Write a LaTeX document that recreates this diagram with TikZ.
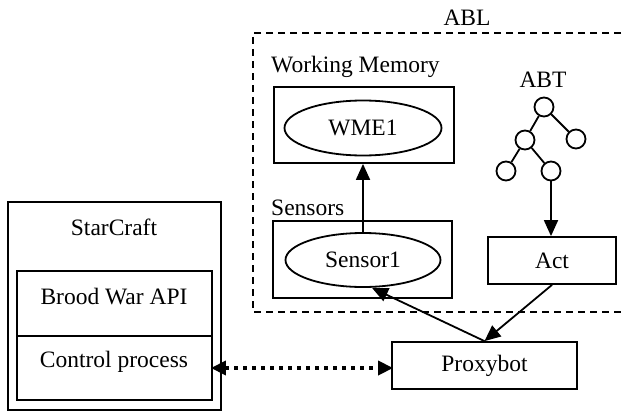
\documentclass[tikz,border=0pt]{standalone}
\usepackage{fontspec}
\setmainfont{Liberation Serif}
\usetikzlibrary{shapes.geometric,arrows.meta}
\begin{document}
\begin{tikzpicture}[x=1pt,y=-1pt,
  font=\fontsize{23.5}{28}\selectfont,
  ln/.style={line width=1.8pt},
  box/.style={draw,ln,rectangle,inner sep=0pt},
  ell/.style={draw,ln,ellipse,inner sep=0pt},
  txt/.style={inner sep=0pt},
  tnode/.style={draw,ln,circle,minimum size=19pt,inner sep=0pt},
  arr/.style={ln,-{Triangle[length=16pt,width=14pt]}},
  dots/.style={line width=3.6pt,dash pattern=on 3.6pt off 5.4pt,
    {Triangle[length=15pt,width=14pt,sep=-2pt]}-{Triangle[length=15pt,width=14pt,sep=-2pt]}},
  ablbox/.style={line width=1.6pt,dash pattern=on 7pt off 5pt}
]
\useasboundingbox (0,0) rectangle (626,412);

% ABL region
\node[txt] (abl) at (467,18) {ABL};
\coordinate (ablTR) at (621,33);
\coordinate (ablTL) at (253,33);
\coordinate (ablBL) at (253,312);
\coordinate (ablBR) at (621,312);
\draw[ablbox] (ablTR) -- (ablTL) -- (ablBL) -- (ablBR);

% Working memory
\node[txt,anchor=west] (wmlabel) at (271,67) {Working Memory};
\node[box,minimum width=180pt,minimum height=76pt] (wm) at (364,125) {};
\node[ell,minimum width=157pt,minimum height=55pt] (wme) at (363,128) {WME1};

% Sensors
\node[txt,anchor=west] (senslabel) at (271,208) {Sensors};
\node[box,minimum width=179pt,minimum height=77pt] (sens) at (362.5,259.5) {};
\node[ell,minimum width=155pt,minimum height=54pt] (sensor1) at (363,260) {Sensor1};

% ABT
\node[txt] (abt) at (543,80) {ABT};
\node[tnode] (root) at (544,107) {};
\node[tnode] (cl) at (525,140) {};
\node[tnode] (cr) at (576,139) {};
\node[tnode] (gl) at (506,171) {};
\node[tnode] (gr) at (551,171) {};
\draw[ln] (root) -- (cl);
\draw[ln] (root) -- (cr);
\draw[ln] (cl) -- (gl);
\draw[ln] (cl) -- (gr);

% Act
\node[box,minimum width=128pt,minimum height=47pt] (act) at (552,260.5) {Act};

% Proxybot
\node[box,minimum width=185pt,minimum height=47pt] (proxy) at (484.5,365.5) {Proxybot};

% StarCraft
\node[box,minimum width=213pt,minimum height=208pt] (sc) at (114.5,306) {};
\node[txt] (sclabel) at (114,227) {StarCraft};
\node[box,minimum width=195pt,minimum height=65pt] (bw) at (114.5,303.5) {};
\node[txt] (bwlabel) at (114,297) {Brood War API};
\node[box,minimum width=195pt,minimum height=64pt] (cp) at (114.5,368) {};
\node[txt] (cplabel) at (114,362) {Control process};

% Connectors
\draw[arr] (sensor1.north) -- (sensor1.north |- wm.south);
\draw[arr] (gr.south) -- (gr.south |- act.north);
\draw[arr] (proxy.north) -- ([xshift=9pt]sensor1.south);
\draw[arr] (act.south) -- (proxy.north);
\draw[dots] (cp.east) -- (cp.east -| proxy.west);
\end{tikzpicture}
\end{document}
